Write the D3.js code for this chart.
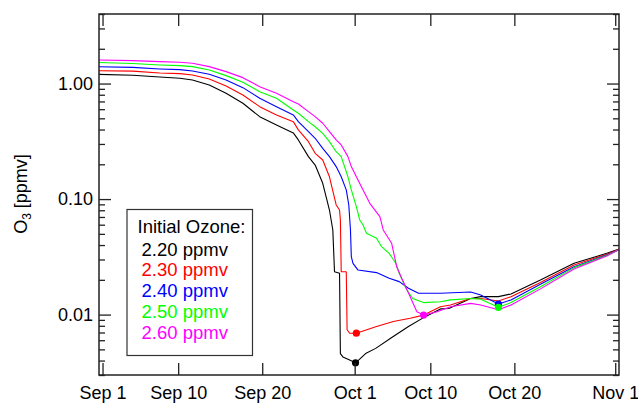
<!DOCTYPE html>
<html>
<head>
<meta charset="utf-8">
<script src="https://cdn.jsdelivr.net/npm/d3@7"></script>
<style>
  html, body { margin: 0; padding: 0; background: #fff; }
  svg { display: block; }
  text { font-family: "Liberation Sans", Arial, Helvetica, sans-serif; }
</style>
</head>
<body>
<svg id="chart" width="638" height="403"></svg>
<script>
// ---- data (day 0 = Sep 1) ----
const tickDays   = [0, 9, 19, 30, 39, 49, 61];
const tickLabels = ["Sep 1", "Sep 10", "Sep 20", "Oct 1", "Oct 10", "Oct 20", "Nov 1"];
const yMajor = [0.01, 0.1, 1];
const yMajorLabels = ["0.01", "0.10", "1.00"];

const seriesNames  = ["2.20 ppmv", "2.30 ppmv", "2.40 ppmv", "2.50 ppmv", "2.60 ppmv"];
const seriesColors = ["#000000", "#ff0000", "#0000ff", "#00ff00", "#ff00ff"];

const blackDays = [-0.5, 3.6, 6.8, 9.2, 10.7, 12.7, 14.7, 16.7, 18.7, 20.7, 22.7, 23.3, 24.5, 25.3, 26.2, 27.0, 27.4, 27.6, 28.2, 28.3, 28.6, 29.4, 30.1, 30.5, 31.3, 32.5, 34.5, 36.4, 38.4, 40.2, 41.2, 43.8, 45.0, 47.1, 48.6, 52.1, 56.1, 60.0, 61.5];
const blackO3   = [1.20, 1.18, 1.14, 1.11, 1.075, 0.972, 0.824, 0.675, 0.517, 0.438, 0.374, 0.325, 0.233, 0.197, 0.137, 0.0804, 0.054, 0.0235, 0.0228, 0.0046, 0.0043, 0.00405, 0.00383, 0.00405, 0.0046, 0.0051, 0.0064, 0.0079, 0.0096, 0.0112, 0.0113, 0.0138, 0.0143, 0.0143, 0.0151, 0.0199, 0.0278, 0.0339, 0.037];

const redDays = [-0.5, 3.6, 6.8, 9.2, 10.7, 12.7, 14.7, 16.7, 18.7, 20.7, 22.7, 23.3, 24.5, 25.3, 26.2, 27.0, 27.8, 28.2, 28.3, 28.4, 29.0, 29.1, 29.4, 30.2, 32.6, 34.6, 36.6, 38.2, 40.2, 41.4, 43.8, 45.0, 47.1, 48.6, 52.1, 56.1, 60.0, 61.5];
const redO3   = [1.29, 1.28, 1.235, 1.218, 1.187, 1.096, 0.953, 0.797, 0.631, 0.535, 0.468, 0.397, 0.314, 0.249, 0.218, 0.156, 0.0889, 0.0804, 0.0659, 0.0235, 0.0235, 0.0074, 0.0069, 0.0069, 0.0079, 0.0087, 0.0093, 0.0099, 0.0117, 0.0121, 0.0138, 0.0138, 0.0131, 0.0143, 0.0190, 0.0269, 0.0333, 0.0368];

const blueDays = [-0.5, 3.6, 6.8, 9.2, 10.7, 12.7, 14.7, 16.7, 18.7, 20.7, 22.7, 23.3, 24.5, 25.3, 26.2, 27.0, 27.8, 28.4, 29.0, 29.3, 29.5, 29.6, 29.8, 30.4, 32.6, 34.1, 35.3, 36.4, 37.6, 40.2, 43.8, 45.0, 47.1, 48.6, 52.1, 56.1, 60.0, 61.5];
const blueO3   = [1.40, 1.38, 1.338, 1.319, 1.286, 1.204, 1.075, 0.922, 0.746, 0.631, 0.535, 0.468, 0.383, 0.336, 0.275, 0.233, 0.191, 0.156, 0.12, 0.0889, 0.054, 0.0317, 0.0278, 0.0243, 0.0231, 0.0206, 0.0193, 0.0169, 0.0153, 0.0153, 0.0157, 0.0148, 0.01235, 0.0134, 0.0183, 0.026, 0.0328, 0.0366];

const greenDays = [-0.5, 3.6, 6.8, 9.2, 10.7, 12.7, 14.7, 16.7, 18.7, 20.7, 22.7, 23.3, 24.5, 25.3, 26.2, 27.0, 27.8, 28.4, 29.2, 29.6, 30.2, 30.6, 31.0, 31.4, 32.6, 33.2, 34.1, 34.9, 35.3, 36.1, 36.9, 38.2, 40.2, 41.4, 43.8, 45.0, 47.1, 48.6, 52.1, 56.1, 60.0, 61.5];
const greenO3   = [1.52, 1.49, 1.449, 1.429, 1.401, 1.311, 1.171, 1.026, 0.851, 0.746, 0.591, 0.553, 0.468, 0.423, 0.371, 0.314, 0.257, 0.233, 0.156, 0.12, 0.0859, 0.0659, 0.0597, 0.0506, 0.0458, 0.0387, 0.0339, 0.0278, 0.0228, 0.0169, 0.0138, 0.0127, 0.0129, 0.0134, 0.0138, 0.0136, 0.01157, 0.0127, 0.0174, 0.0255, 0.0325, 0.0366];

const magentaDays = [-0.5, 3.6, 6.8, 9.2, 10.7, 12.7, 14.7, 16.7, 18.7, 20.7, 22.7, 23.3, 24.5, 25.3, 26.2, 27.0, 27.8, 28.4, 29.2, 29.6, 30.2, 31.0, 31.8, 33.0, 33.4, 34.4, 35.0, 35.6, 36.6, 37.4, 38.2, 39.8, 41.4, 43.8, 45.0, 47.1, 48.6, 52.1, 56.1, 60.0, 61.5];
const magentaO3   = [1.60, 1.58, 1.548, 1.529, 1.499, 1.401, 1.268, 1.125, 0.940, 0.824, 0.697, 0.666, 0.571, 0.517, 0.453, 0.383, 0.325, 0.294, 0.233, 0.191, 0.156, 0.12, 0.0919, 0.0704, 0.054, 0.0414, 0.026, 0.0206, 0.0143, 0.0106, 0.0099, 0.0106, 0.0117, 0.0125, 0.0121, 0.0110, 0.0121, 0.0167, 0.0248, 0.0322, 0.0366];

// minimum markers per series
const markerDays = [30.1, 30.2, 47.1, 47.1, 38.2];
const markerO3   = [0.00383, 0.0069, 0.01235, 0.01157, 0.0099];

const allDays = [blackDays, redDays, blueDays, greenDays, magentaDays];
const allO3   = [blackO3, redO3, blueO3, greenO3, magentaO3];

// ---- layout ----
const L = 99, R = 619, T = 14, B = 375;
const svg = d3.select("#chart");
const x = d3.scaleLinear().domain([-0.42, 61.45]).range([L, R]);
const y = d3.scaleLog().domain([0.003, 4]).range([B, T]);

const minorVals = [];
[0.001, 0.01, 0.1, 1].forEach(dec => {
  for (let k = 2; k <= 9; k++) {
    const v = +(k * dec).toPrecision(3);
    if (v >= 0.003 && v <= 4) minorVals.push(v);
  }
});

const fontSize = 18;
const axisColor = "#222";

function styleAxis(g) {
  g.select(".domain").remove();
  g.selectAll(".tick line").attr("stroke", axisColor).attr("stroke-width", 1.3);
  g.selectAll(".tick text").attr("font-size", fontSize).attr("fill", "#000")
    .attr("font-family", "'Liberation Sans', Arial, Helvetica, sans-serif");
}

// lines
const line = d3.line().x(d => x(d[0])).y(d => y(d[1]));
const plot = svg.append("g");
plot.append("clipPath").attr("id", "clip").append("rect")
  .attr("x", L).attr("y", T).attr("width", R - L).attr("height", B - T);
const lg = plot.append("g").attr("clip-path", "url(#clip)");
allDays.forEach((days, i) => {
  const pts = days.map((d, j) => [d, allO3[i][j]]);
  lg.append("path").datum(pts)
    .attr("fill", "none").attr("stroke", seriesColors[i]).attr("stroke-width", 1.1)
    .attr("stroke-linejoin", "round").attr("d", line);
});
// markers
markerDays.forEach((d, i) => {
  lg.append("circle").attr("cx", x(d)).attr("cy", y(markerO3[i])).attr("r", 3.6)
    .attr("fill", seriesColors[i]);
});

// axes
svg.append("g").attr("transform", `translate(0,${B})`)
  .call(d3.axisBottom(x).tickValues(tickDays).tickFormat((d, i) => tickLabels[i]).tickSize(-12).tickPadding(11))
  .call(styleAxis);
svg.append("g").attr("transform", `translate(0,${T})`)
  .call(d3.axisTop(x).tickValues(tickDays).tickFormat("").tickSize(-12))
  .call(styleAxis);
svg.append("g").attr("transform", `translate(${L},0)`)
  .call(d3.axisLeft(y).tickValues(yMajor).tickFormat((d, i) => yMajorLabels[i]).tickSize(-12).tickPadding(6))
  .call(styleAxis);
svg.append("g").attr("transform", `translate(${L},0)`)
  .call(d3.axisLeft(y).tickValues(minorVals).tickFormat("").tickSize(-6))
  .call(styleAxis);
svg.append("g").attr("transform", `translate(${R},0)`)
  .call(d3.axisRight(y).tickValues(yMajor).tickFormat("").tickSize(-12))
  .call(styleAxis);
svg.append("g").attr("transform", `translate(${R},0)`)
  .call(d3.axisRight(y).tickValues(minorVals).tickFormat("").tickSize(-6))
  .call(styleAxis);

// frame
svg.append("rect").attr("x", L).attr("y", T).attr("width", R - L).attr("height", B - T)
  .attr("fill", "none").attr("stroke", axisColor).attr("stroke-width", 1.5);

// y title
const yt = svg.append("text").attr("transform", "translate(27,194) rotate(-90)")
  .attr("text-anchor", "middle").attr("font-size", fontSize).attr("fill", "#000");
yt.append("tspan").text("O");
yt.append("tspan").attr("font-size", 12).attr("dy", 4).text("3");
yt.append("tspan").attr("dy", -4).text(" [ppmv]");

// legend
const leg = svg.append("g");
leg.append("rect").attr("x", 127).attr("y", 209.5).attr("width", 125.5).attr("height", 146)
  .attr("fill", "#fff").attr("stroke", "#333").attr("stroke-width", 1.2);
leg.append("text").attr("x", 137.5).attr("y", 233).attr("font-size", 18.5).attr("fill", "#000")
  .text("Initial Ozone:");
seriesNames.forEach((n, i) => {
  leg.append("text").attr("x", 141.5).attr("y", 255.5 + i * 20.75)
    .attr("font-size", 18.5).attr("fill", seriesColors[i]).text(n);
});
</script>
</body>
</html>
